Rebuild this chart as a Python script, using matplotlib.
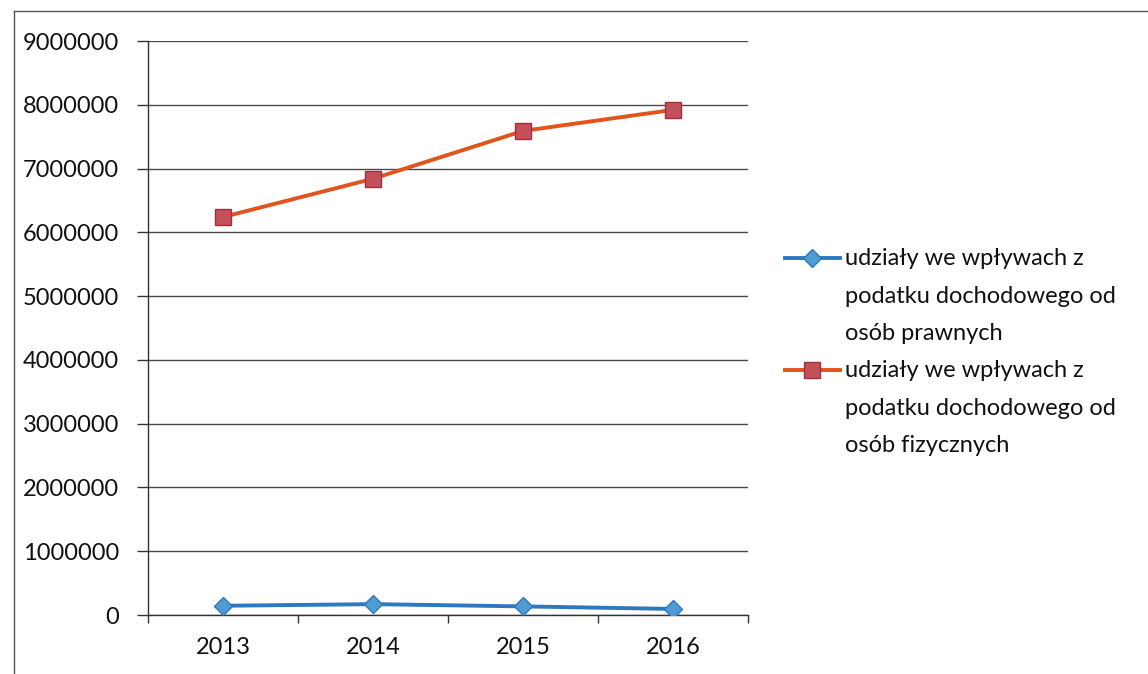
import matplotlib
matplotlib.use("Agg")
import matplotlib.pyplot as plt
from matplotlib.lines import Line2D

plt.rcParams['font.family'] = ['Lato', 'DejaVu Sans']

years = ["2013", "2014", "2015", "2016"]
prawne = [145000, 170000, 135000, 95000]
fizyczne = [6240000, 6840000, 7590000, 7920000]
label_prawne = "udziały we wpływach z\npodatku dochodowego od\nosób prawnych"
label_fizyczne = "udziały we wpływach z\npodatku dochodowego od\nosób fizycznych"
yticks = [0, 1000000, 2000000, 3000000, 4000000, 5000000, 6000000, 7000000, 8000000, 9000000]

W, H = 1148, 674
fig = plt.figure(figsize=(W / 100, H / 100), dpi=100)
ax = fig.add_axes([148 / W, 1 - 615 / H, 600 / W, 574 / H])

blue_line, blue_face = '#2E78C0', '#4F9BD2'
red_line, red_face, red_edge = '#E2541C', '#C4515A', '#A03040'

x = list(range(len(years)))
ax.plot(x, prawne, color=blue_line, lw=2.8, marker='D', ms=9,
        markerfacecolor=blue_face, markeredgecolor=blue_line, markeredgewidth=1, zorder=3)
ax.plot(x, fizyczne, color=red_line, lw=2.8, marker='s', ms=11,
        markerfacecolor=red_face, markeredgecolor=red_edge, markeredgewidth=1, zorder=3)

ax.set_xlim(-0.5, len(years) - 0.5)
ax.set_ylim(0, 9000000)
ax.set_yticks(yticks)
ax.set_yticklabels([str(v) for v in yticks])
ax.set_xticks(x)
ax.set_xticklabels(years)
ax.set_xticks([i - 0.5 for i in range(len(years) + 1)], minor=True)
ax.tick_params(axis='x', which='major', length=0, pad=16, labelsize=17, labelcolor='#111111')
ax.tick_params(axis='x', which='minor', length=6, width=1, color='#333333', direction='out')
ax.tick_params(axis='y', length=8, width=1, color='#333333', direction='out', pad=13,
               labelsize=17, labelcolor='#111111')
ax.grid(axis='y', color='#4a4a4a', lw=1)
ax.set_axisbelow(True)
for s in ['top', 'right']:
    ax.spines[s].set_visible(False)
for s in ['left', 'bottom']:
    ax.spines[s].set_color('#333333')
    ax.spines[s].set_linewidth(1)

# legend (handle aligned with first text line)
def px(xp, yp):
    return xp / W, 1 - yp / H

for (y0, label, lc, mk, ms, fc, ec) in [
        (258, label_prawne, blue_line, 'D', 9, blue_face, blue_line),
        (370, label_fizyczne, red_line, 's', 11, red_face, red_edge)]:
    xa, ya = px(785, y0)
    xb, _ = px(840, y0)
    xm, _ = px(812, y0)
    fig.add_artist(Line2D([xa, xb], [ya, ya], transform=fig.transFigure, color=lc, lw=2.8))
    fig.add_artist(Line2D([xm], [ya], transform=fig.transFigure, marker=mk, ms=ms,
                          markerfacecolor=fc, markeredgecolor=ec, markeredgewidth=1))
    tx, ty = px(845, y0 - 10)
    fig.text(tx, ty, label, fontsize=17, va='top', ha='left', linespacing=1.98, color='#111111')

fig.add_artist(Line2D([14 / W, 1.0], [1 - 11 / H, 1 - 11 / H], transform=fig.transFigure,
                      color='#555555', lw=1))
fig.add_artist(Line2D([14 / W, 14 / W], [0, 1 - 11 / H], transform=fig.transFigure,
                      color='#555555', lw=1))

fig.savefig('out.png', dpi=100)
